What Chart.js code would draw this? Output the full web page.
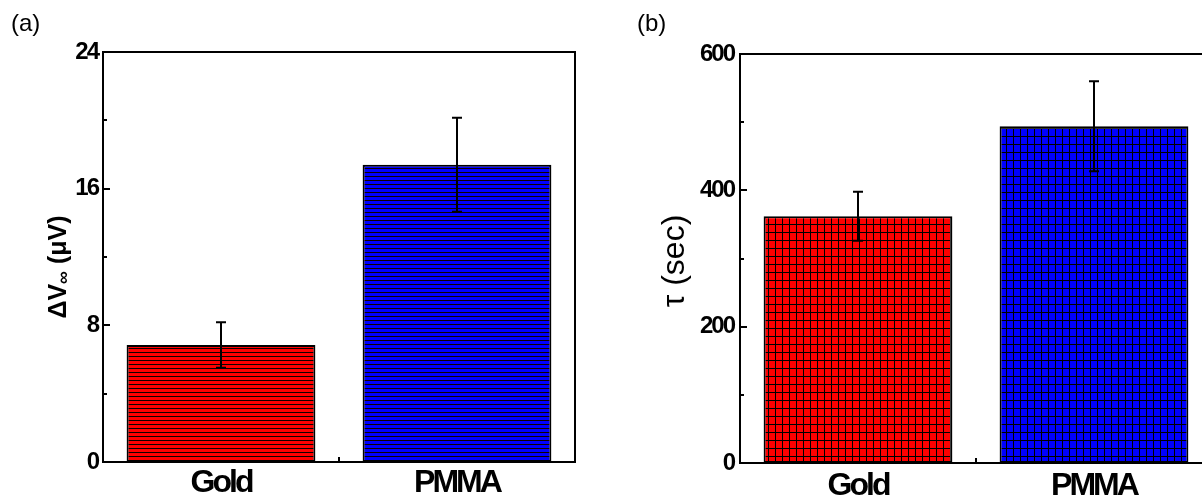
<!DOCTYPE html>
<html>
<head>
<meta charset="utf-8">
<script src="https://cdn.jsdelivr.net/npm/chart.js@4.4.1/dist/chart.umd.min.js"></script>
<style>
  html, body { margin: 0; padding: 0; width: 1202px; height: 502px; overflow: hidden; background: #fff; }
  canvas { position: absolute; top: 0; }
  #chartA { left: 0; }
  #chartB { left: 600px; }
</style>
</head>
<body>
<canvas id="chartA" width="600" height="502"></canvas>
<canvas id="chartB" width="640" height="502"></canvas>
<script>
// data
const categories = ['Gold', 'PMMA'];
const voltageValues = [6.85, 17.4];
const voltageErrors = [1.33, 2.75];
const tauValues = [362, 494];
const tauErrors = [36, 66];
const voltageTicks = [0, 8, 16, 24];
const tauTicks = [0, 200, 400, 600];

const SANS = "'Liberation Sans', Arial, sans-serif";

// horizontal line hatch
function lineHatch(color) {
    const c = document.createElement('canvas');
    c.width = 4; c.height = 4;
    const g = c.getContext('2d');
    g.fillStyle = color;
    g.fillRect(0, 0, 4, 4);
    g.fillStyle = '#100000';
    g.fillRect(0, 0, 4, 1);
    return g.createPattern(c, 'repeat');
}

// square grid hatch
function gridHatch(color) {
    const c = document.createElement('canvas');
    c.width = 7; c.height = 8;
    const g = c.getContext('2d');
    g.fillStyle = color;
    g.fillRect(0, 0, 7, 8);
    g.fillStyle = '#000';
    g.fillRect(0, 0, 7, 1);
    g.fillRect(0, 0, 1, 8);
    return g.createPattern(c, 'repeat');
}

// draw a rotated axis title made of [text, size, dy] pieces
function drawTitle(ctx, parts, weight, cx, cy) {
    ctx.save();
    ctx.translate(cx, cy);
    ctx.rotate(-Math.PI / 2);
    ctx.textBaseline = 'alphabetic';
    ctx.textAlign = 'left';
    let total = 0;
    parts.forEach(p => {
        ctx.font = weight + ' ' + p[1] + 'px ' + SANS;
        total += ctx.measureText(p[0]).width;
    });
    let x = -total / 2;
    parts.forEach(p => {
        ctx.font = weight + ' ' + p[1] + 'px ' + SANS;
        ctx.fillText(p[0], x, 9 + p[2]);
        x += ctx.measureText(p[0]).width;
    });
    ctx.restore();
}

// frame, inside ticks, error bars, titles and panel letter
const framePlugin = {
    id: 'frame',
    beforeDraw(chart, args, opts) {
        chart.ctx.letterSpacing = opts.ySpacing;
    },
    afterDatasetsDraw(chart, args, opts) {
        const { ctx, chartArea: a, scales: { x, y } } = chart;
        const meta = chart.getDatasetMeta(0);
        ctx.letterSpacing = '0px';
        ctx.save();
        ctx.strokeStyle = '#000';
        ctx.lineWidth = 2;
        ctx.beginPath();
        meta.data.forEach((bar, i) => {
            const v = opts.values[i], e = opts.errors[i];
            const yt = y.getPixelForValue(v + e);
            const yb = y.getPixelForValue(v - e);
            ctx.moveTo(bar.x, yt); ctx.lineTo(bar.x, yb);
            ctx.moveTo(bar.x - 5, yt); ctx.lineTo(bar.x + 5, yt);
            ctx.moveTo(bar.x - 5, yb); ctx.lineTo(bar.x + 5, yb);
        });
        ctx.stroke();

        ctx.strokeRect(a.left, a.top, a.right - a.left, a.bottom - a.top);

        ctx.beginPath();
        y.ticks.forEach(t => {
            const py = Math.round(y.getPixelForValue(t.value));
            const len = opts.major.includes(t.value) ? 7 : 4;
            ctx.moveTo(a.left, py); ctx.lineTo(a.left + len, py);
        });
        const xm = Math.round((x.getPixelForValue(0) + x.getPixelForValue(1)) / 2);
        ctx.moveTo(xm, a.bottom); ctx.lineTo(xm, a.bottom - 5);
        ctx.stroke();

        ctx.fillStyle = '#000';
        ctx.font = '24px ' + SANS;
        ctx.textBaseline = 'middle';
        ctx.fillText(opts.label, opts.labelX, opts.labelY);

        drawTitle(ctx, opts.title, opts.titleWeight, opts.titleX, opts.titleY);
        ctx.restore();
        // x labels are drawn after the datasets
        ctx.letterSpacing = opts.xSpacing;
    }
};

function makeChart(id, cfg) {
    return new Chart(document.getElementById(id).getContext('2d'), {
        type: 'bar',
        data: {
            labels: categories,
            datasets: [{
                data: cfg.values,
                backgroundColor: cfg.fills,
                borderColor: '#000',
                borderWidth: 2,
                borderSkipped: false,
                barPercentage: 0.8,
                categoryPercentage: 1.0,
            }],
        },
        options: {
            responsive: false,
            animation: false,
            devicePixelRatio: 1,
            layout: { padding: cfg.padding },
            plugins: {
                legend: { display: false },
                tooltip: { enabled: false },
                frame: {
                    values: cfg.values,
                    errors: cfg.errors,
                    major: cfg.major,
                    label: cfg.label,
                    labelX: cfg.labelX,
                    labelY: 24,
                    title: cfg.title,
                    titleWeight: cfg.titleWeight,
                    titleX: cfg.titleX,
                    titleY: cfg.titleY,
                    xSpacing: '-3px',
                    ySpacing: '-2px',
                },
            },
            scales: {
                x: {
                    grid: { display: false, drawTicks: false },
                    border: { display: false },
                    ticks: {
                        z: 1,
                        color: '#000',
                        padding: cfg.xPad,
                        font: { family: SANS, size: 32, weight: 'bold' },
                    },
                    afterFit: s => { s.height = cfg.xHeight; },
                },
                y: {
                    min: 0,
                    max: cfg.major[cfg.major.length - 1],
                    grid: { display: false, drawTicks: false },
                    border: { display: false },
                    ticks: {
                        stepSize: cfg.major[1] / 2,
                        autoSkip: false,
                        color: '#000',
                        padding: cfg.yPad,
                        font: { family: SANS, size: 24, weight: 'bold' },
                        callback: v => cfg.major.includes(v) ? v : '',
                    },
                    afterFit: s => { s.width = cfg.yWidth; },
                },
            },
        },
        plugins: [framePlugin],
    });
}

makeChart('chartA', {
    values: voltageValues,
    errors: voltageErrors,
    fills: [lineHatch('#ff0000'), lineHatch('#0000ff')],
    major: voltageTicks,
    title: [['ΔV', 25, 0], ['∞', 18, 3], [' (μV)', 25, 0]],
    titleWeight: 'bold',
    titleX: 57,
    titleY: 267,
    yWidth: 103,
    yPad: 5,
    xHeight: 40,
    xPad: 2,
    padding: { top: 52, right: 25, left: 0, bottom: 0 },
    label: '(a)',
    labelX: 11,
});

makeChart('chartB', {
    values: tauValues,
    errors: tauErrors,
    fills: [gridHatch('#ff0000'), gridHatch('#0000ff')],
    major: tauTicks,
    title: [['τ (sec)', 32, 0]],
    titleWeight: 'normal',
    titleX: 75,
    titleY: 261,
    yWidth: 140,
    yPad: 6,
    xHeight: 39,
    xPad: 4,
    padding: { top: 54, right: 28, left: 0, bottom: 0 },
    label: '(b)',
    labelX: 37,
});
</script>
</body>
</html>
